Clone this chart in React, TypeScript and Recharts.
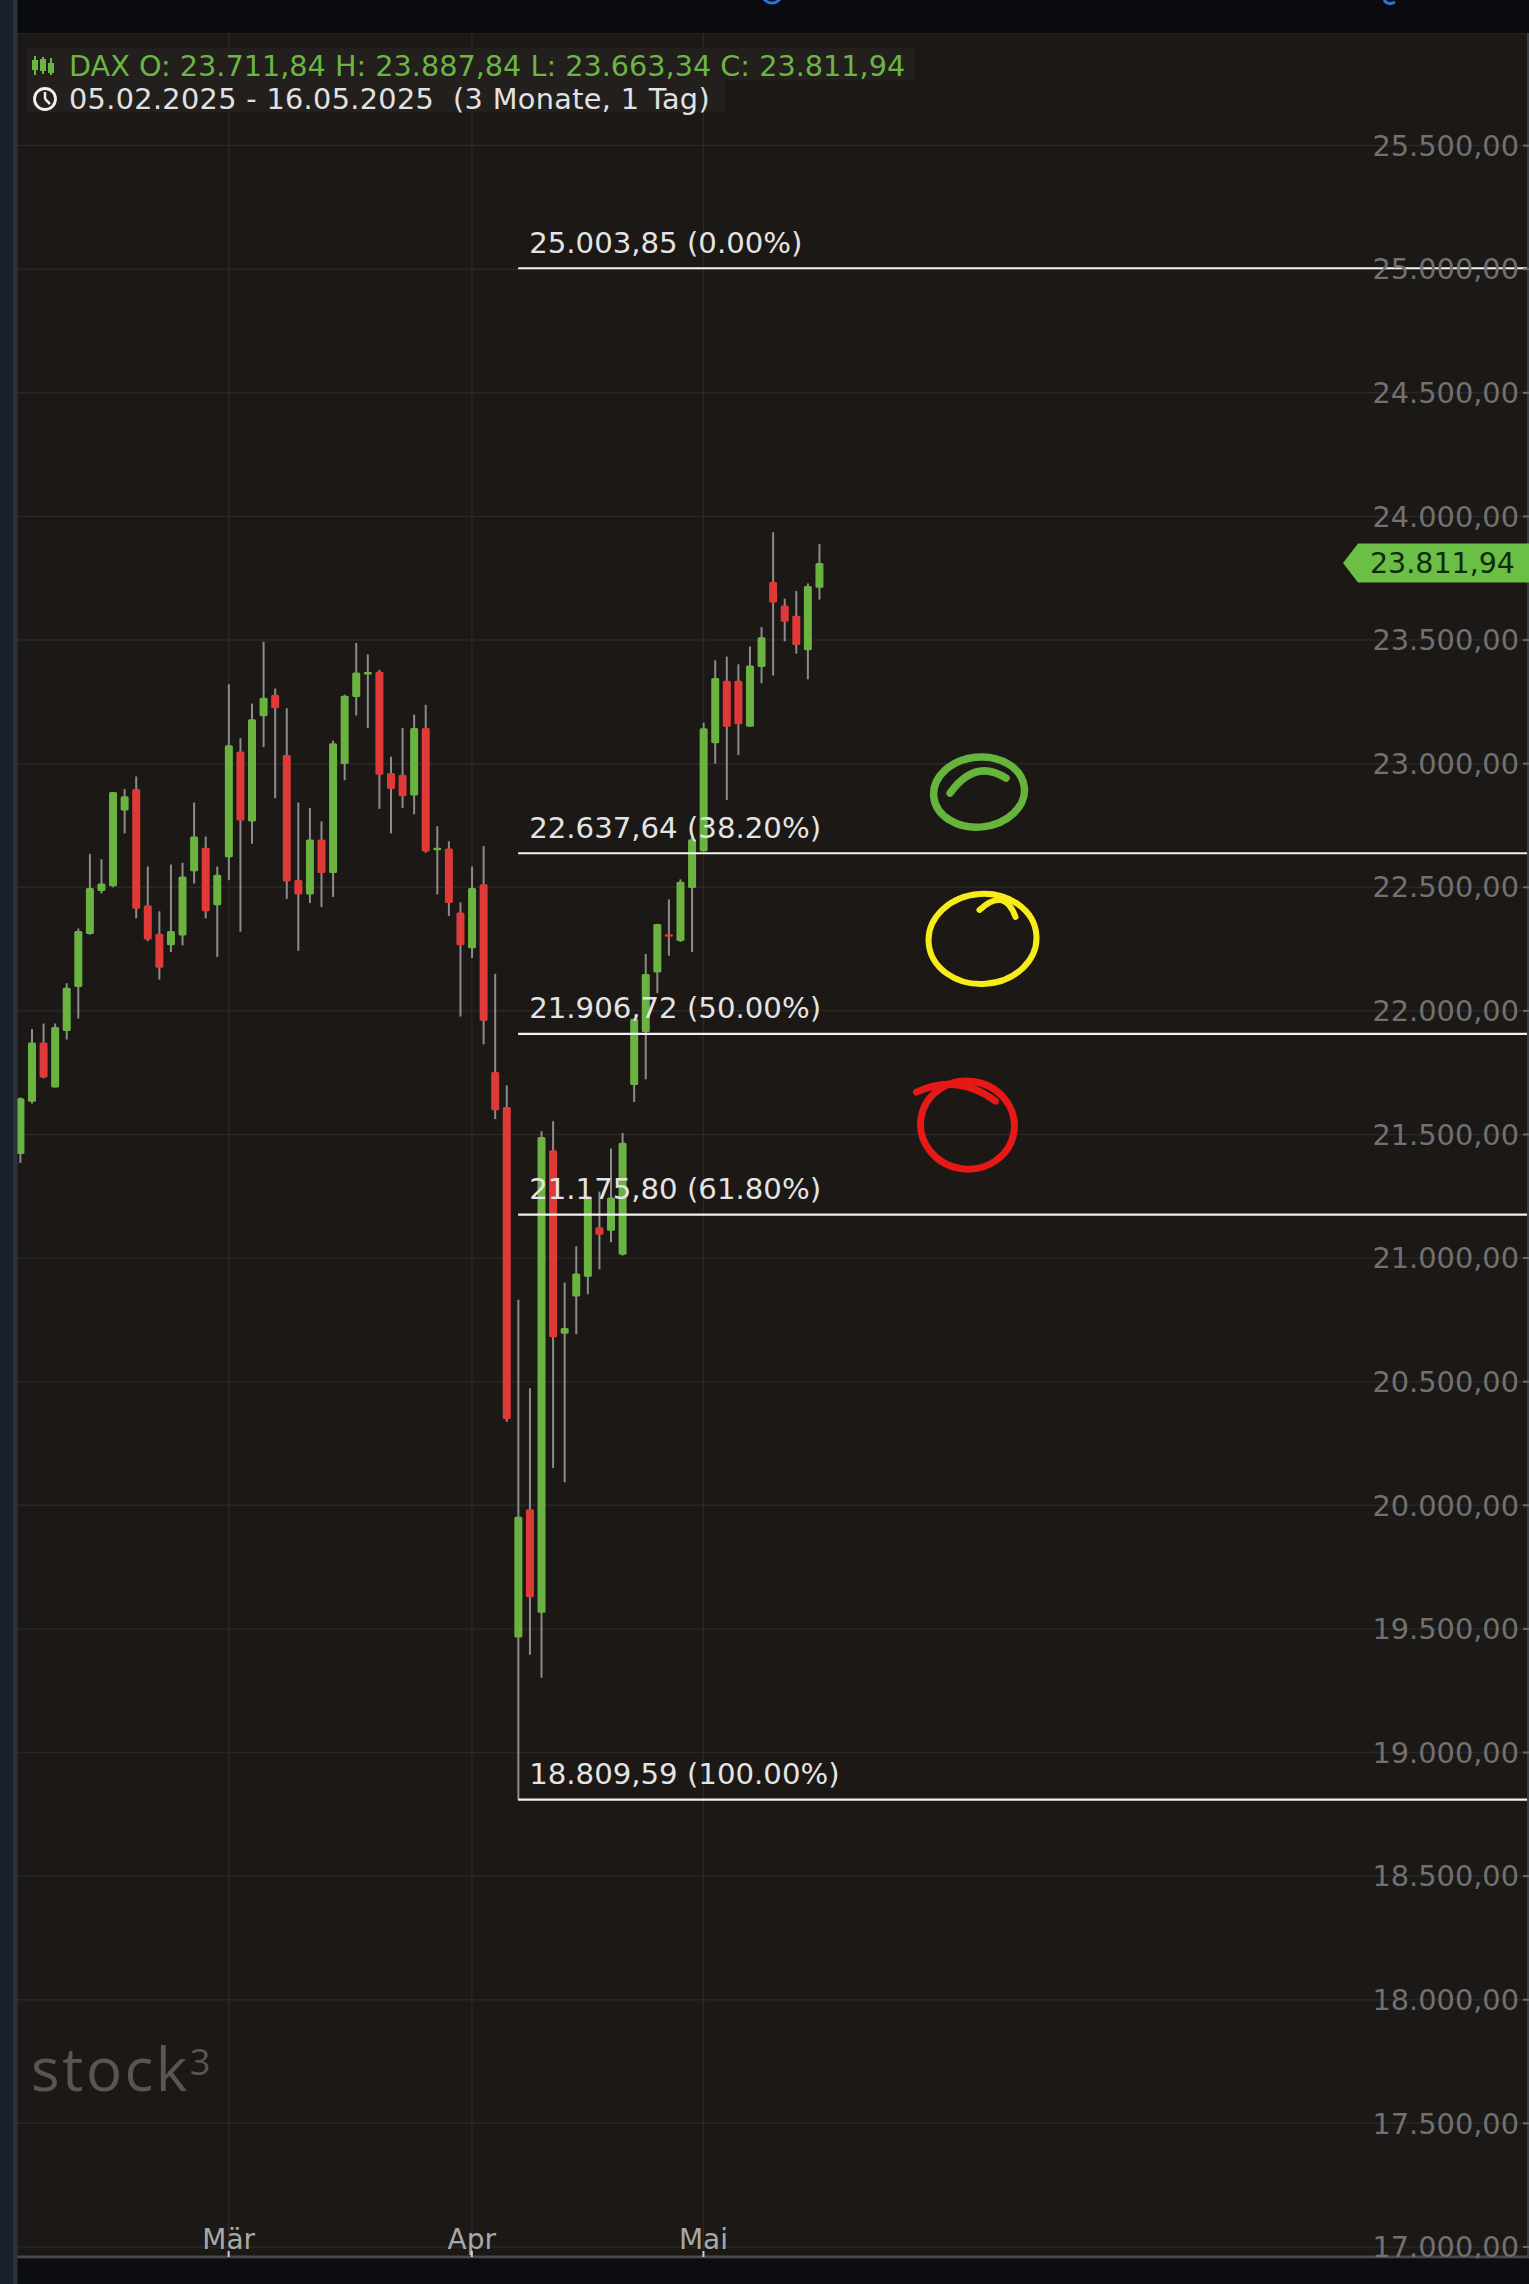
import React from 'react';
import { ComposedChart, Bar, XAxis, YAxis, CartesianGrid, ReferenceLine, ReferenceDot } from 'recharts';

// ---- data ----
const dates = [
  '05.02', '06.02', '07.02', '10.02', '11.02', '12.02', '13.02', '14.02', '17.02', '18.02',
  '19.02', '20.02', '21.02', '24.02', '25.02', '26.02', '27.02', '28.02', '03.03', '04.03',
  '05.03', '06.03', '07.03', '10.03', '11.03', '12.03', '13.03', '14.03', '17.03', '18.03',
  '19.03', '20.03', '21.03', '24.03', '25.03', '26.03', '27.03', '28.03', '31.03', '01.04',
  '02.04', '03.04', '04.04', '07.04', '08.04', '09.04', '10.04', '11.04', '14.04', '15.04',
  '16.04', '17.04', '22.04', '23.04', '24.04', '25.04', '28.04', '29.04', '30.04', '02.05',
  '05.05', '06.05', '07.05', '08.05', '09.05', '12.05', '13.05', '14.05', '15.05', '16.05',
];
const opens = [
  21421, 21632, 21872, 21690, 21919, 22097, 22311, 22485, 22504, 22810,
  22897, 22427, 22312, 22265, 22305, 22565, 22660, 22427, 22621, 23049,
  22766, 23192, 23279, 23035, 22529, 22471, 22693, 22558, 22999, 23270,
  23362, 23372, 22962, 22955, 22871, 23144, 22652, 22657, 22398, 22253,
  22512, 21753, 21611, 19465, 19984, 19565, 21436, 20694, 20845, 20924,
  21125, 21111, 21013, 21700, 21914, 22155, 22310, 22283, 22497, 22646,
  23083, 23335, 23335, 23149, 23391, 23735, 23640, 23598, 23459, 23711.84,
];
const highs = [
  21650, 21926, 21949, 21949, 22112, 22333, 22635, 22613, 22885, 22897,
  22948, 22584, 22403, 22592, 22599, 22843, 22705, 22584, 23321, 23103,
  23243, 23493, 23304, 23224, 22843, 22820, 22766, 23093, 23279, 23488,
  23442, 23379, 23028, 23144, 23198, 23238, 22747, 22686, 22439, 22584,
  22667, 22150, 21699, 20831, 20473, 21513, 21553, 20901, 21048, 21250,
  21269, 21443, 21506, 21969, 22230, 22352, 22451, 22532, 22704, 23166,
  23418, 23433, 23402, 23474, 23553, 23936, 23667, 23698, 23729, 23887.84,
];
const lows = [
  21385, 21625, 21727, 21690, 21884, 21969, 22308, 22475, 22500, 22718,
  22374, 22282, 22126, 22238, 22265, 22515, 22374, 22218, 22529, 22320,
  22676, 23067, 22860, 22453, 22243, 22436, 22420, 22461, 22933, 23195,
  23144, 22817, 22718, 22820, 22795, 22640, 22471, 22384, 21977, 22214,
  21865, 21562, 20338, 18809.59, 19395, 19302, 20151, 20093, 20692, 20854,
  20954, 21064, 21010, 21631, 21723, 22072, 22223, 22279, 22238, 22644,
  23000, 22853, 23035, 23149, 23325, 23356, 23495, 23445, 23341, 23663.34,
];
const closes = [
  21647, 21872, 21730, 21935, 22093, 22323, 22497, 22515, 22885, 22868,
  22413, 22289, 22174, 22323, 22544, 22705, 22403, 22551, 23074, 22770,
  23180, 23267, 23224, 22523, 22471, 22693, 22558, 23083, 23275, 23369,
  23369, 22955, 22897, 22868, 23144, 22645, 22657, 22436, 22265, 22497,
  21960, 21598, 20349, 19954, 19628, 21490, 20680, 20717, 20938, 21245,
  21094, 21245, 21467, 21968, 22149, 22351, 22300, 22522, 22694, 23143,
  23346, 23149, 23159, 23397, 23511, 23652, 23574, 23480, 23719, 23811.94,
];
const monthNames = ['Mär', 'Apr', 'Mai'];
const priceTicks = [17000, 17500, 18000, 18500, 19000, 19500, 20000, 20500, 21000, 21500,
  22000, 22500, 23000, 23500, 24000, 24500, 25000, 25500];
const fibLevels = [25003.85, 22637.64, 21906.72, 21175.8, 18809.59];
const fibPercents = ['0.00%', '38.20%', '50.00%', '61.80%', '100.00%'];
const circleMarks = [
  { x: 82.8, y: 22885 },
  { x: 83.1, y: 22291 },
  { x: 81.8, y: 21538 },
];

// ---- layout / style ----
const W = 1529;
const H = 2284;
const X_MIN = -1.744;
const X_MAX = 130.29;
const Y_MIN = 16959.3;
const Y_MAX = 25955.5;
const FONT = "'DejaVu Sans', sans-serif";
const BG = '#1b1816';
const GREEN = '#6ab340';
const RED = '#e03a38';
const WICK = '#8c8c8c';

const de = (v: number) => {
  const [a, b] = v.toFixed(2).split('.');
  return a.replace(/\B(?=(\d{3})+(?!\d))/g, '.') + ',' + b;
};

// month ticks: first trading day of each new month
const monthTicks: number[] = [];
dates.forEach((d, i) => {
  if (i > 0 && d.slice(3) !== dates[i - 1].slice(3)) monthTicks.push(i);
});

const Candle = (p: any) => {
  const { x, y, width, height, payload } = p;
  if (!payload || height == null || isNaN(y)) return null;
  const top = Math.min(y, y + height);
  const h = Math.abs(height);
  const { open, close, high, low } = payload;
  const k = h / (high - low);
  const cx = x + width / 2;
  let bTop = top + (high - Math.max(open, close)) * k;
  let bBot = top + (high - Math.min(open, close)) * k;
  if (bBot - bTop < 2.5) {
    const m = (bTop + bBot) / 2;
    bTop = m - 1.25;
    bBot = m + 1.25;
  }
  const up = close >= open;
  return (
    <g>
      <line x1={cx} x2={cx} y1={top} y2={top + h} stroke={WICK} strokeWidth={2} />
      <rect x={cx - width / 2} y={bTop} width={width} height={bBot - bTop} rx={1.5} fill={up ? GREEN : RED} />
    </g>
  );
};

const MonthTick = (p: any) => {
  const { x, y, payload } = p;
  if (x == null || !payload) return null;
  const label = monthNames[monthTicks.indexOf(payload.value)];
  return (
    <g>
      <text x={x} y={y - 8} textAnchor="middle" fill="#a8a8a8" fontSize={28} fontFamily={FONT}>
        {label}
      </text>
      <line x1={x} x2={x} y1={y - 6} y2={y} stroke="#d0d0d0" strokeWidth={2} />
    </g>
  );
};

const FibLabel = (p: any) => {
  const { cx, cy, text } = p;
  if (cx == null) return null;
  return (
    <text x={cx + 11} y={cy - 15.5} fill="#e4e4e4" fontSize={29.2} fontFamily={FONT}>
      {text}
    </text>
  );
};

const PriceTag = (p: any) => {
  const { cx, cy, text } = p;
  if (cx == null) return null;
  const r = cx;
  const pts = `${r - 186},${cy} ${r - 171},${cy - 19.5} ${r},${cy - 19.5} ${r},${cy + 19.5} ${r - 171},${cy + 19.5}`;
  return (
    <g>
      <polygon points={pts} fill="#6cbf45" />
      <text x={r - 14} y={cy + 10.5} textAnchor="end" fill="#0c2a0c" fontSize={28.5} fontFamily={FONT}>
        {text}
      </text>
    </g>
  );
};

const circleStyles = [
  { color: '#67b43c', rx: 45.5, ry: 35, w: 7.5, rot: -6, hook: (cx: number, cy: number) => `M ${cx - 29} ${cy + 1} Q ${cx - 4} ${cy - 34} ${cx + 27} ${cy - 14}` },
  { color: '#f7ec1a', rx: 54, ry: 45, w: 6, rot: -4, hook: (cx: number, cy: number) => `M ${cx - 3} ${cy - 29} Q ${cx + 22} ${cy - 52} ${cx + 33} ${cy - 22}` },
  { color: '#e61818', rx: 47, ry: 44, w: 7, rot: 8, hook: (cx: number, cy: number) => `M ${cx - 51} ${cy - 33} Q ${cx - 10} ${cy - 52} ${cx + 28} ${cy - 24}` },
];

const Scribble = (p: any) => {
  const { cx, cy, idx } = p;
  if (cx == null) return null;
  const s = circleStyles[idx];
  return (
    <g>
      <ellipse cx={cx} cy={cy} rx={s.rx} ry={s.ry} fill="none" stroke={s.color} strokeWidth={s.w}
        transform={`rotate(${s.rot} ${cx} ${cy})`} />
      <path d={s.hook(cx, cy)} fill="none" stroke={s.color} strokeWidth={s.w} strokeLinecap="round" />
    </g>
  );
};

export default function App() {
  const data = opens.map((o, i) => ({
    i,
    date: dates[i],
    open: o,
    high: highs[i],
    low: lows[i],
    close: closes[i],
    range: [lows[i], highs[i]],
  }));
  const last = data[data.length - 1];
  const fibStart = lows.indexOf(Math.min(...lows));

  return (
    <div style={{ position: 'absolute', left: 0, top: 0, width: W, height: H, background: BG, overflow: 'hidden' }}>
      <ComposedChart width={W} height={H} data={data} margin={{ top: 33, right: 0, bottom: 0, left: 0 }}>
        <CartesianGrid stroke="#2a2725" strokeWidth={1.5} />
        <XAxis
          dataKey="i"
          type="number"
          domain={[X_MIN, X_MAX]}
          allowDataOverflow
          ticks={monthTicks}
          interval={0}
          height={27}
          tickSize={0}
          tickMargin={0}
          tick={<MonthTick />}
          tickLine={false}
          axisLine={{ stroke: '#4a4a4c', strokeWidth: 3 }}
        />
        <YAxis
          orientation="right"
          mirror
          type="number"
          domain={[Y_MIN, Y_MAX]}
          allowDataOverflow
          ticks={priceTicks}
          interval={0}
          tickFormatter={de}
          tickSize={6}
          tickMargin={4}
          tick={{ fill: '#717171', fontSize: 28.8, fontFamily: FONT }}
          tickLine={{ stroke: '#6a6a6a', strokeWidth: 2 }}
          axisLine={{ stroke: '#3a3d42', strokeWidth: 4 }}
        />
        <Bar dataKey="range" barSize={8} shape={<Candle />} isAnimationActive={false} />
        {fibLevels.map((lv) => (
          <ReferenceLine
            key={`l${lv}`}
            segment={[{ x: fibStart, y: lv }, { x: X_MAX, y: lv }]}
            stroke="#f2f2f2"
            strokeWidth={2.2}
          />
        ))}
        {fibLevels.map((lv, k) => (
          <ReferenceDot
            key={`t${lv}`}
            x={fibStart}
            y={lv}
            r={0}
            shape={(p: any) => <FibLabel {...p} text={`${de(lv)} (${fibPercents[k]})`} />}
          />
        ))}
        {circleMarks.map((m, k) => (
          <ReferenceDot key={`c${k}`} x={m.x} y={m.y} r={0} shape={(p: any) => <Scribble {...p} idx={k} />} />
        ))}
        <ReferenceDot x={X_MAX} y={last.close} r={0} shape={(p: any) => <PriceTag {...p} text={de(last.close)} />} />
      </ComposedChart>

      <svg width={W} height={H} style={{ position: 'absolute', left: 0, top: 0, pointerEvents: 'none' }}>
        <rect x={0} y={0} width={W} height={33} fill="#090b10" />
        <ellipse cx={772} cy={-5} rx={9} ry={8} fill="none" stroke="#2f6fe0" strokeWidth={3} />
        <path d="M 1384 0 Q 1388 6 1395 2" fill="none" stroke="#2f6fe0" strokeWidth={3} />
        <rect x={0} y={2258.5} width={W} height={H - 2258.5} fill="#0b0d11" />
        <rect x={0} y={0} width={13} height={H} fill="#18212c" />
        <rect x={13} y={0} width={4.5} height={H} fill="#2d333b" />

        <rect x={27} y={48} width={888} height={32} fill="#221f1d" />
        <rect x={27} y={80} width={698} height={32} fill="#221f1d" />
        <g stroke="#6cb544" strokeWidth={2} fill="#6cb544">
          <line x1={35} y1={56} x2={35} y2={75} />
          <rect x={33} y={61} width={4} height={8} />
          <line x1={43} y1={57} x2={43} y2={74} />
          <rect x={41} y={60} width={4} height={10} fill="none" />
          <line x1={51} y1={58} x2={51} y2={75} />
          <rect x={49} y={64} width={4} height={8} fill="none" />
        </g>
        <text x={69} y={76} fill="#6cb544" fontSize={28.7} fontFamily={FONT}>
          DAX O: 23.711,84 H: 23.887,84 L: 23.663,34 C: 23.811,94
        </text>
        <circle cx={45} cy={99} r={10.5} fill="none" stroke="#f0f0f0" strokeWidth={2.8} />
        <line x1={45} y1={99} x2={45} y2={92} stroke="#f0f0f0" strokeWidth={2.5} />
        <line x1={45} y1={99} x2={50} y2={104} stroke="#f0f0f0" strokeWidth={2.5} />
        <text x={69} y={109} fill="#e2e2e2" fontSize={28.7} fontFamily={FONT} xmlSpace="preserve"
          style={{ whiteSpace: 'pre' }} letterSpacing={0.35}>
          {'05.02.2025 - 16.05.2025  (3 Monate, 1 Tag)'}
        </text>

        <text x={31} y={2091} fill="#5a5551" fontSize={60} fontFamily="'Open Sans', sans-serif" letterSpacing={2.5}>
          stock
          <tspan fontSize={36} dy={-16}>3</tspan>
        </text>
      </svg>
    </div>
  );
}
